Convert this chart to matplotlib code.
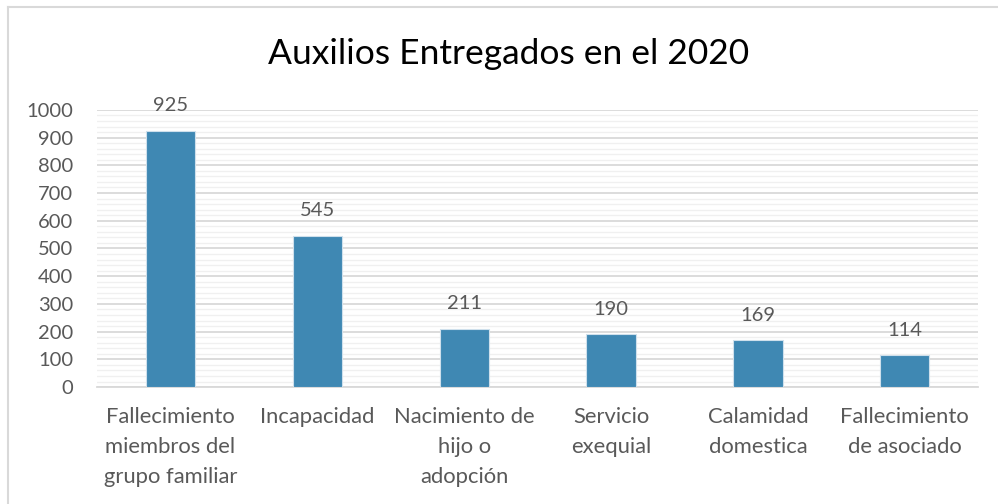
import matplotlib.pyplot as plt
from matplotlib.lines import Line2D
from matplotlib.ticker import MultipleLocator

categories = [
    "Fallecimiento\nmiembros del\ngrupo familiar",
    "Incapacidad",
    "Nacimiento de\nhijo o\nadopción",
    "Servicio\nexequial",
    "Calamidad\ndomestica",
    "Fallecimiento\nde asociado",
]
values = [925, 545, 211, 190, 169, 114]

plt.rcParams["font.family"] = ["Lato", "DejaVu Sans"]
text_color = "#595959"
bar_color = "#3F88B3"

fig = plt.figure(figsize=(9.98, 5.04), dpi=100)
ax = fig.add_axes([0.0972, 0.232, 0.883, 0.55])

x = range(len(categories))
ax.bar(x, values, width=0.335, color=bar_color, edgecolor="#cfe0ec",
       linewidth=0.8, zorder=3)

for xi, v in zip(x, values):
    ax.annotate(str(v), (xi, v), xytext=(0, 12), textcoords="offset points",
                ha="center", va="bottom", fontsize=14.5, color=text_color)

ax.set_xlim(-0.5, len(categories) - 0.5)
ax.set_ylim(0, 1000)
ax.yaxis.set_major_locator(MultipleLocator(100))
ax.yaxis.set_minor_locator(MultipleLocator(20))
ax.set_xticks(list(x))
ax.set_xticklabels(categories, fontsize=15.8, color=text_color, linespacing=1.65)
ax.tick_params(axis="x", length=0, pad=14)
ax.tick_params(axis="y", which="both", length=0, labelsize=14.5,
               labelcolor=text_color, pad=17)

ax.grid(axis="y", which="major", color="#d9d9d9", linewidth=1.3, zorder=0)
ax.grid(axis="y", which="minor", color="#f0f0f0", linewidth=1.0, zorder=0)
for s in ["top", "right", "left"]:
    ax.spines[s].set_visible(False)
ax.spines["bottom"].set_color("#d9d9d9")
ax.spines["bottom"].set_linewidth(1.3)

fig.text(0.51, 0.893, "Auxilios Entregados en el 2020", ha="center",
         va="center", fontsize=25.5, color="black")

# outer chart frame (top and left edges visible)
fig.add_artist(Line2D([8 / 998, 1.0], [1 - 7 / 504, 1 - 7 / 504],
                      transform=fig.transFigure, color="#d9d9d9", linewidth=1.5))
fig.add_artist(Line2D([8 / 998, 8 / 998], [0, 1 - 7 / 504],
                      transform=fig.transFigure, color="#d9d9d9", linewidth=1.5))

fig.savefig("out.png", dpi=100)
